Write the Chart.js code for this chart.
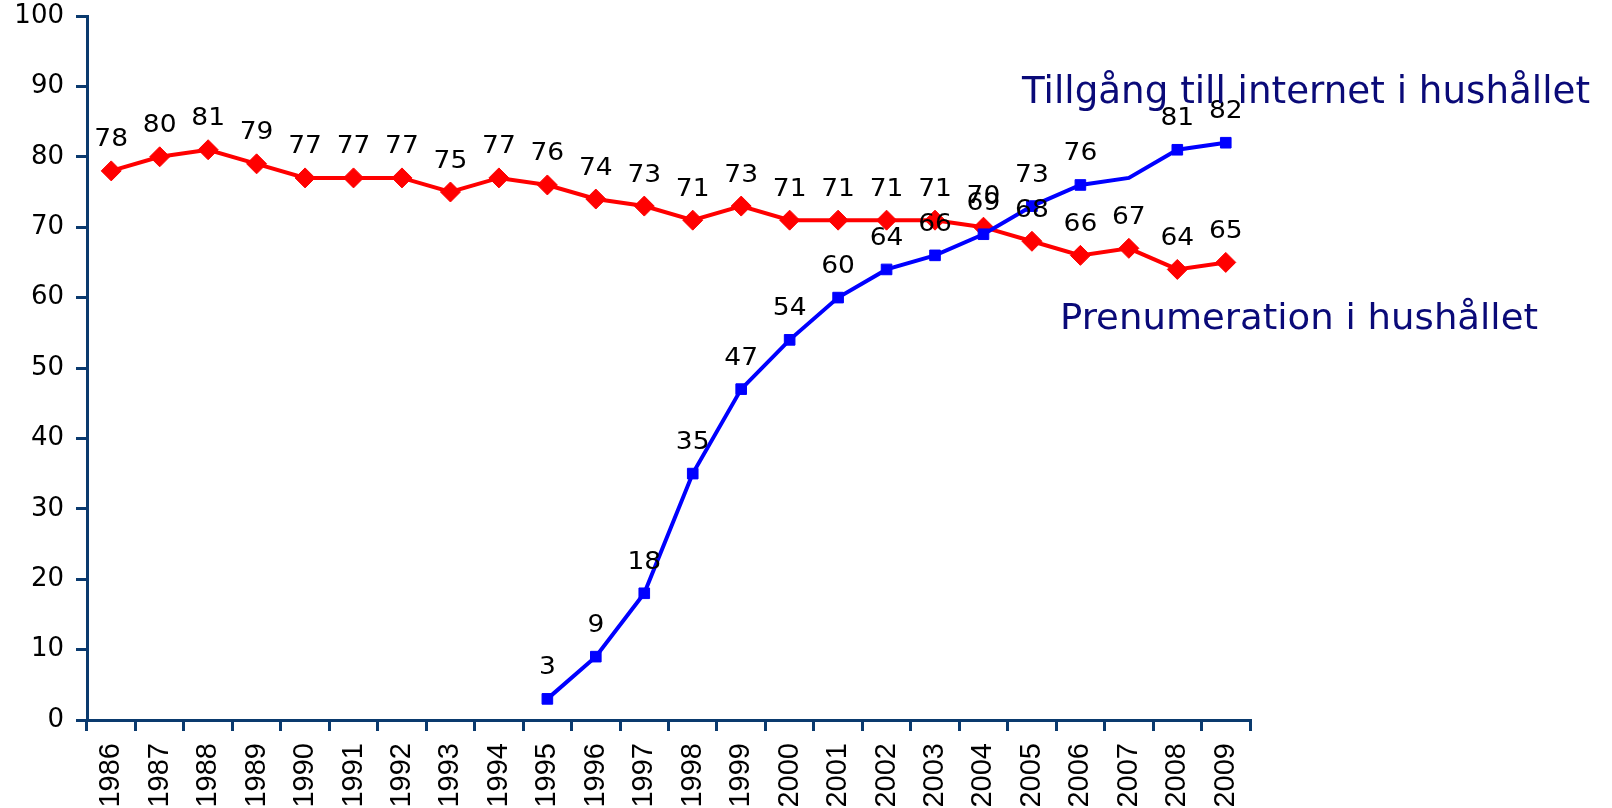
<!DOCTYPE html>
<html>
<head>
<meta charset="utf-8">
<script src="https://cdn.jsdelivr.net/npm/chart.js@4"></script>
<style>
  body { margin: 0; background: #fff; }
  #ruta { width: 1612px; height: 808px; }
</style>
</head>
<body>
<div id="ruta"><canvas id="diagram"></canvas></div>
<script>
// ---- data ----
const ar = ["1986","1987","1988","1989","1990","1991","1992","1993","1994","1995","1996","1997",
            "1998","1999","2000","2001","2002","2003","2004","2005","2006","2007","2008","2009"];
const prenumeration = [78,80,81,79,77,77,77,75,77,76,74,73,71,73,71,71,71,71,70,68,66,67,64,65];
const internet = [null,null,null,null,null,null,null,null,null,3,9,18,35,47,54,60,64,66,69,73,76,77,81,82];
const yTicks = [0,10,20,30,40,50,60,70,80,90,100];
// 2007 saknar markering och etikett i originalet
const internetUtanMarkor = ["2007"];

const axelFarg = "#0a3a6e";

// ritar text, eventuellt utdragen i sidled
function ritaText(ctx, text, x, y, sx) {
  ctx.save();
  ctx.translate(x, y);
  ctx.scale(sx, 1);
  ctx.fillText(text, 0, 0);
  ctx.restore();
}

// ---- etiketter ovanför punkterna ----
const etiketter = {
  id: "etiketter",
  afterDatasetsDraw(chart) {
    const ctx = chart.ctx;
    ctx.save();
    ctx.font = "25px 'DejaVu Sans'";
    ctx.fillStyle = "#000";
    ctx.textAlign = "center";
    ctx.textBaseline = "middle";
    chart.data.datasets.forEach((ds, i) => {
      const meta = chart.getDatasetMeta(i);
      meta.data.forEach((pt, j) => {
        const v = ds.data[j];
        if (v == null) return;
        if (ds.utanMarkor && ds.utanMarkor.includes(ar[j])) return;
        ritaText(ctx, String(v), pt.x, pt.y - 31, 1.06);
      });
    });
    ctx.restore();
  }
};

// ---- serienamn i diagrammet ----
const serienamn = {
  id: "serienamn",
  afterDraw(chart) {
    const ctx = chart.ctx;
    ctx.save();
    ctx.fillStyle = "#0a0a78";
    ctx.textAlign = "left";
    ctx.textBaseline = "alphabetic";
    const t1 = "Tillgång till internet i hushållet";
    const t2 = "Prenumeration i hushållet";
    ctx.font = "37px 'DejaVu Sans'";
    ritaText(ctx, t1, 1022, 103, 568 / ctx.measureText(t1).width);
    ctx.font = "35px 'DejaVu Sans'";
    ritaText(ctx, t2, 1060, 329, 478 / ctx.measureText(t2).width);
    ctx.restore();
  }
};

new Chart(document.getElementById("diagram"), {
  type: "line",
  data: {
    labels: ar,
    datasets: [
      {
        label: "Prenumeration i hushållet",
        data: prenumeration,
        order: 2,
        borderColor: "#ff0000",
        backgroundColor: "#ff0000",
        borderWidth: 4,
        pointStyle: "rectRot",
        pointRadius: 10,
        pointBorderWidth: 1,
        tension: 0
      },
      {
        label: "Tillgång till internet i hushållet",
        data: internet,
        order: 1,
        utanMarkor: internetUtanMarkor,
        borderColor: "#0000ff",
        backgroundColor: "#0000ff",
        borderWidth: 4,
        pointStyle: "rect",
        pointRadius: ctx => internetUtanMarkor.includes(ar[ctx.dataIndex]) ? 0 : 7.5,
        pointBorderWidth: 1,
        tension: 0
      }
    ]
  },
  options: {
    responsive: true,
    maintainAspectRatio: false,
    animation: false,
    layout: { padding: { left: 0, right: 362, top: 16, bottom: 0 } },
    plugins: {
      legend: { display: false },
      tooltip: { enabled: false }
    },
    scales: {
      x: {
        offset: true,
        grid: { offset: true, drawOnChartArea: false, drawTicks: true, tickLength: 11, color: axelFarg, lineWidth: 3 },
        border: { color: axelFarg, width: 3 },
        ticks: {
          color: "#000",
          font: { family: "'Liberation Sans'", size: 29 },
          minRotation: 90,
          maxRotation: 90,
          padding: 12,
          autoSkip: false
        },
        afterFit(scale) { scale.height = 88; scale.paddingLeft = 0; scale.paddingRight = 0; }
      },
      y: {
        min: 0,
        max: 100,
        afterBuildTicks(scale) { scale.ticks = yTicks.map(v => ({ value: v })); },
        grid: { drawOnChartArea: false, drawTicks: true, tickLength: 11, color: axelFarg, lineWidth: 3 },
        border: { color: axelFarg, width: 3 },
        ticks: {
          color: "#000",
          font: { family: "'DejaVu Sans'", size: 26 },
          padding: 12
        },
        afterFit(scale) { scale.width = 87; scale.paddingTop = 0; scale.paddingBottom = 0; }
      }
    }
  },
  plugins: [etiketter, serienamn]
});
</script>
</body>
</html>
